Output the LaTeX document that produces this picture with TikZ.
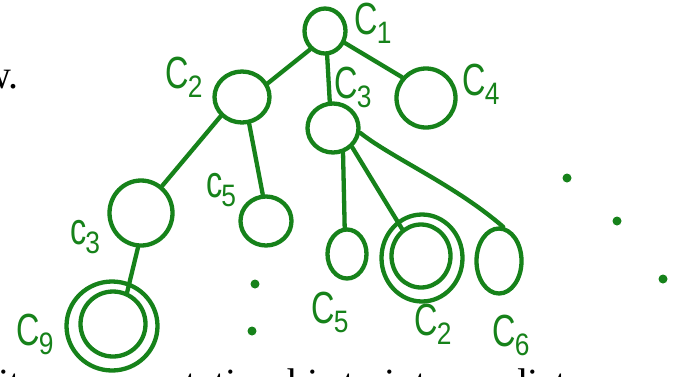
\documentclass[tikz,border=0pt]{standalone}
\usepackage{fontspec}
\usepackage{graphicx}
\usetikzlibrary{shapes.geometric}
\newfontfamily\hand{Liberation Sans}
\newfontfamily\serifb{Liberation Serif}
\definecolor{pen}{RGB}{22,130,26}
\newcommand\lab[2]{{\hand\fontsize{45}{45}\selectfont\scalebox{0.72}[1]{#1}\kern-1pt\raisebox{-9pt}{\fontsize{31}{31}\selectfont\scalebox{0.85}[1]{#2}}}}
\begin{document}
\begin{tikzpicture}[x=1pt,y=-1pt,
  circ/.style={ellipse,draw=pen,line width=4.3pt,inner sep=0pt},
  edge/.style={draw=pen,line width=4.3pt,line cap=round},
  lbl/.style={text=pen,inner sep=0pt},
  dotm/.style={circle,fill=pen,inner sep=0pt,minimum size=9pt},
  txt/.style={inner sep=0pt,font=\serifb\fontsize{40}{40}\selectfont}]
\useasboundingbox (0,0) rectangle (677,376);
\fill[white] (0,0) rectangle (677,376);
% circles
\node[circ,minimum width=41pt,minimum height=45pt] (c1) at (325,31) {};
\node[circ,minimum width=55pt,minimum height=51pt] (c2) at (242,97) {};
\node[circ,minimum width=51pt,minimum height=49pt] (c3) at (333,128) {};
\node[circ,minimum width=59pt,minimum height=59pt] (c4) at (426,98) {};
\node[circ,minimum width=63pt,minimum height=65pt] (cl3) at (141,213) {};
\node[circ,minimum width=51pt,minimum height=49pt] (cm5) at (266,221) {};
\node[circ,minimum width=91pt,minimum height=89pt] (c9o) at (112,326) {};
\node[circ,minimum width=65pt,minimum height=65pt] (c9i) at (113,324) {};
\node[circ,minimum width=39pt,minimum height=49pt] (c5r) at (347,254) {};
\node[circ,minimum width=81pt,minimum height=87pt] (c2o) at (422,258) {};
\node[circ,minimum width=59pt,minimum height=63pt] (c2i) at (421,256) {};
\node[circ,minimum width=45pt,minimum height=65pt] (c6) at (499,261) {};
% edges
\draw[edge] (c1.-129) -- (c2.28);
\draw[edge] (c1.-85) -- (c3.97);
\draw[edge] (c1.-31) -- (c4.139);
\draw[edge] (c2.-138) -- (cl3.52);
\draw[edge] (c2.-75) -- (cm5.97);
\draw[edge] (cl3.-95) -- (c9i.66);
\draw[edge] (c3.-68) -- (c5r.95);
\draw[edge] (c3.-45) -- (c2i.125);
\draw[edge] (c3.-10) .. controls (392,158) and (455,185) .. (c6.83);
% labels
\node[lbl] (l1) at (373,23) {\lab{C}{1}};
\node[lbl] (l2) at (184,77) {\lab{C}{2}};
\node[lbl] (l3) at (353,87) {\lab{C}{3}};
\node[lbl] (l4) at (481,84) {\lab{C}{4}};
\node[lbl] (l5) at (85,237) {\lab{c}{3}};
\node[lbl] (l6) at (221,190) {\lab{c}{5}};
\node[lbl] (l7) at (35,334) {\lab{C}{9}};
\node[lbl] (l8) at (330,312) {\lab{C}{5}};
\node[lbl] (l9) at (433,324) {\lab{C}{2}};
\node[lbl] (l10) at (511,335) {\lab{C}{6}};
% dots
\node[dotm] (d1) at (255,284) {};
\node[dotm] (d2) at (252,331) {};
\node[dotm] (d3) at (567,178) {};
\node[dotm] (d4) at (617,221) {};
\node[dotm] (d5) at (663,279) {};
% black text
\node[txt,anchor=base east] (w) at (19,88) {w.};
\node[txt,anchor=base west] (bot) at (-2,396) {ity representation his to intermediate};
\end{tikzpicture}
\end{document}
